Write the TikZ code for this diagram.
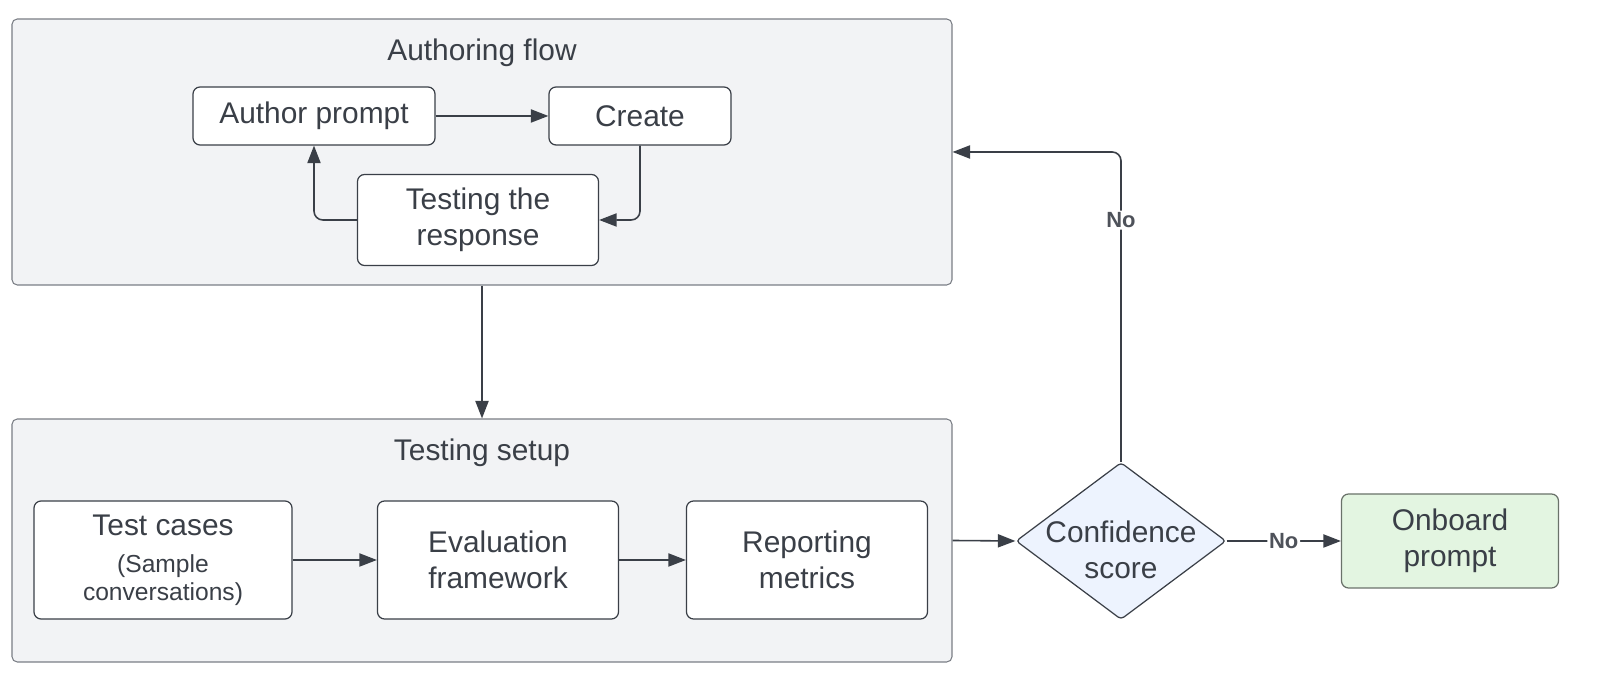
\documentclass[tikz,border=0pt]{standalone}
\usepackage{fontspec}
\setmainfont{Liberation Sans}
\usetikzlibrary{arrows.meta,shapes.geometric}
\definecolor{inkgray}{HTML}{3A3F47}
\definecolor{groupfill}{HTML}{F2F3F5}
\definecolor{groupline}{HTML}{7A7E85}
\definecolor{decfill}{HTML}{EDF3FE}
\definecolor{endfill}{HTML}{E3F5E1}
\definecolor{endline}{HTML}{6A726A}
\begin{document}
\begin{tikzpicture}[
    group/.style={rectangle, draw=groupline, fill=groupfill, line width=0.6pt, rounded corners=3pt, minimum width=18.8cm},
    block/.style={rectangle, draw=inkgray, fill=white, line width=0.7pt, rounded corners=4pt, align=center, font=\fontsize{17}{20.5}\selectfont, text=inkgray},
    title/.style={font=\fontsize{17}{20}\selectfont, text=inkgray},
    arrow/.style={-{Triangle[length=10pt,width=7.5pt]}, draw=inkgray, line width=0.9pt, rounded corners=5pt},
    lbl/.style={fill=white, inner sep=1pt, font=\bfseries\fontsize{12.5}{14}\selectfont, text=inkgray!90}
]
\useasboundingbox (0,0) rectangle (32,13.78);

% Containers
\node[group, minimum height=5.32cm] (authoring) at (9.64,10.74) {};
\node[title] (authtitle) at (9.64,12.72) {Authoring flow};
\node[group, minimum height=4.86cm] (setup) at (9.64,2.97) {};
\node[title] (setuptitle) at (9.64,4.72) {Testing setup};

% Authoring flow blocks
\node[block, minimum width=4.84cm, minimum height=1.16cm] (author) at (6.28,11.46) {Author prompt};
\node[block, minimum width=3.64cm, minimum height=1.16cm] (create) at (12.8,11.46) {Create};
\node[block, minimum width=4.82cm, minimum height=1.82cm] (testresp) at (9.56,9.38) {Testing the\\response};

% Testing setup blocks
\node[block, minimum width=5.16cm, minimum height=2.36cm] (cases) at (3.26,2.58) {Test cases\\[1pt]{\fontsize{14}{16}\selectfont (Sample}\\[-5pt]{\fontsize{14}{16}\selectfont conversations)}};
\node[block, minimum width=4.82cm, minimum height=2.36cm] (evalfw) at (9.96,2.58) {Evaluation\\framework};
\node[block, minimum width=4.82cm, minimum height=2.36cm] (report) at (16.14,2.58) {Reporting\\metrics};

% Decision and result
\node[diamond, draw=inkgray, fill=decfill, line width=0.7pt, rounded corners=2pt, inner sep=0pt, aspect=1.34, minimum width=4.2cm, minimum height=3.14cm] (conf) at (22.42,2.96) {};
\node[align=center, font=\fontsize{17}{20.5}\selectfont, text=inkgray] (conftext) at (22.42,2.78) {Confidence\\score};
\node[block, draw=endline, fill=endfill, minimum width=4.34cm, minimum height=1.88cm] (onboard) at (29.0,2.96) {Onboard\\prompt};

% Arrows
\draw[arrow] (author) -- (create);
\draw[arrow] (create.south) |- (testresp.east);
\draw[arrow] (testresp.west) -| (author.south);
\draw[arrow] (authoring.south) -- (setup.north);
\draw[arrow] (cases) -- (evalfw);
\draw[arrow] (evalfw) -- (report);
\draw[arrow] (setup.east) -- (conf.west);
\draw[arrow] (conf.north) |- node[lbl, pos=0.39] {No} (authoring.east);
\draw[arrow] (conf.east) -- node[lbl] {No} (onboard.west);
\end{tikzpicture}
\end{document}
